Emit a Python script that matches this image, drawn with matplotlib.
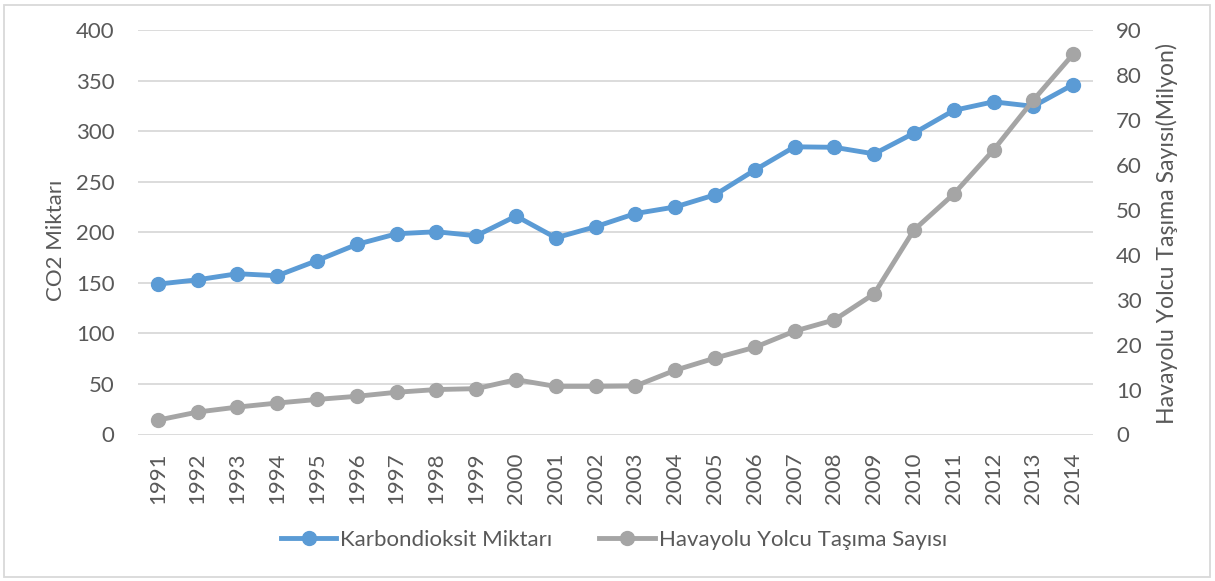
import matplotlib
matplotlib.use("Agg")
import matplotlib.pyplot as plt
from matplotlib.patches import Rectangle
from matplotlib.lines import Line2D

years = [str(y) for y in range(1991, 2015)]
co2 = [148.7, 153, 159, 157, 172, 188, 198.5, 200.5, 196.5, 216, 194.5, 205.5,
       218.5, 225, 237, 261.5, 284.5, 284, 277.5, 298, 320.5, 329, 324.5, 346]
passengers = [3.2, 5.0, 6.1, 7.0, 7.8, 8.5, 9.4, 10.0, 10.2, 12.2, 10.7, 10.7,
              10.8, 14.3, 17.0, 19.4, 23.0, 25.5, 31.3, 45.5, 53.5, 63.3, 74.4, 84.6]
left_ticks = [0, 50, 100, 150, 200, 250, 300, 350, 400]
right_ticks = [0, 10, 20, 30, 40, 50, 60, 70, 80, 90]

BLUE = "#5B9BD5"
GRAY = "#A5A5A5"
TXT = "#595959"
GRID = "#D9D9D9"

plt.rcParams['font.family'] = ['Lato', 'DejaVu Sans']
FS = 16

W, H = 1215, 581
fig = plt.figure(figsize=(W / 100, H / 100), dpi=100)
fig.patches.append(Rectangle((4 / W, 4 / H), (W - 9) / W, (H - 9) / H, transform=fig.transFigure,
                             fill=False, edgecolor=GRID, linewidth=1.3))

ax = fig.add_axes([138 / W, 1 - 434.5 / H, (1093 - 138) / W, (434.5 - 30) / H])
x = list(range(len(years)))
ax.set_xlim(-0.5, len(years) - 0.5)
ax.set_ylim(0, 400)
ax.set_yticks(left_ticks)
ax.set_xticks(x)
ax.set_xticklabels(years, rotation=90)
for s in ax.spines.values():
    s.set_visible(False)
ax.grid(axis='y', color=GRID, linewidth=1.3)
ax.set_axisbelow(True)
ax.tick_params(axis='both', length=0, colors=TXT, labelsize=FS)
ax.tick_params(axis='y', pad=17)
ax.tick_params(axis='x', pad=13)
ax.set_ylabel("CO2 Miktarı", color=TXT, fontsize=FS)
ax.yaxis.set_label_coords(-0.0754, 0.481)

l1, = ax.plot(x, co2, color=BLUE, linewidth=3.5, marker='o', markersize=10,
              solid_capstyle='round', zorder=3)

ax2 = ax.twinx()
ax2.set_ylim(0, 90)
ax2.set_yticks(right_ticks)
for s in ax2.spines.values():
    s.set_visible(False)
ax2.tick_params(axis='y', length=0, colors=TXT, labelsize=FS, pad=16.5)
ax2.set_ylabel("Havayolu Yolcu Taşıma Sayısı(Milyon)", color=TXT, fontsize=16.6)
ax2.yaxis.set_label_coords(1.066, 0.496)
l2, = ax2.plot(x, passengers, color=GRAY, linewidth=3.5, marker='o', markersize=10,
               solid_capstyle='round', zorder=3)

h1 = Line2D([], [], color=BLUE, linewidth=3.5, marker='o', markersize=10)
h2 = Line2D([], [], color=GRAY, linewidth=3.5, marker='o', markersize=10)
leg = fig.legend([h1, h2], ["Karbondioksit Miktarı", "Havayolu Yolcu Taşıma Sayısı"],
                 loc='center', bbox_to_anchor=(614 / W, 1 - 540 / H), ncol=2, frameon=False,
                 fontsize=FS, handlelength=2.5, handletextpad=0.18, columnspacing=2.1)
for t in leg.get_texts():
    t.set_color(TXT)

fig.savefig("out.png", dpi=100)
